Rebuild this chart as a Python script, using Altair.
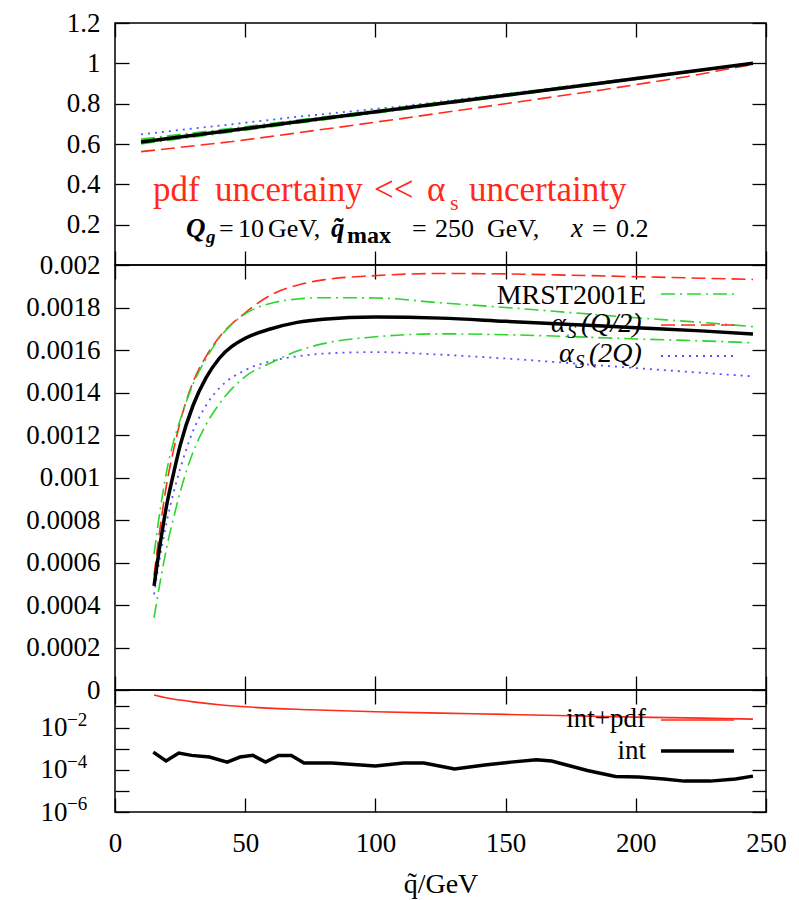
import altair as alt
import pandas as pd

FONT = "Liberation Serif"
RED = "#ff2a1a"
GREEN = "#2bd62b"
BLUE = "#5555ff"
BLACK = "#000000"

# ---------------- data ----------------
# top panel: ratio to value at q_max
q_ratio = [10, 45, 70, 110, 150, 187, 220, 245]
ratio_central = [0.610, 0.668, 0.710, 0.776, 0.842, 0.903, 0.958, 1.000]
ratio_mrst_up = [0.622, 0.676, 0.716, 0.780, 0.845, 0.905, 0.959, 1.000]
ratio_mrst_dn = [0.603, 0.662, 0.705, 0.772, 0.839, 0.901, 0.957, 1.000]
ratio_half = [0.562, 0.612, 0.655, 0.726, 0.800, 0.868, 0.935, 0.995]
ratio_double = [0.648, 0.698, 0.735, 0.787, 0.848, 0.907, 0.960, 1.000]

# middle panel: cross sections
q_xs = [15, 17.5, 20, 22.5, 25, 30, 35, 40, 50, 60, 70, 80, 100, 125, 150, 175, 200, 225, 245]
xs_central = [0.000490, 0.000700, 0.000880, 0.001020, 0.001150, 0.001340, 0.001470, 0.001560, 0.001655,
              0.001700, 0.001730, 0.001745, 0.001755, 0.001750, 0.001735, 0.001720, 0.001705, 0.001690, 0.001675]
xs_half = [0.000540, 0.000780, 0.000980, 0.001130, 0.001260, 0.001450, 0.001570, 0.001660, 0.001775,
           0.001860, 0.001905, 0.001930, 0.001950, 0.001960, 0.001958, 0.001952, 0.001945, 0.001938, 0.001932]
xs_mrst_up = [0.000640, 0.000860, 0.001040, 0.001170, 0.001270, 0.001440, 0.001560, 0.001655, 0.001770,
              0.001820, 0.001840, 0.001846, 0.001845, 0.001822, 0.001800, 0.001776, 0.001752, 0.001730, 0.001710]
xs_mrst_dn = [0.000340, 0.000520, 0.000680, 0.000810, 0.000930, 0.001120, 0.001250, 0.001345, 0.001475,
              0.001540, 0.001595, 0.001630, 0.001662, 0.001676, 0.001672, 0.001663, 0.001652, 0.001643, 0.001634]
xs_double = [0.000450, 0.000640, 0.000800, 0.000930, 0.001040, 0.001220, 0.001340, 0.001420, 0.001505,
             0.001548, 0.001570, 0.001583, 0.001590, 0.001578, 0.001560, 0.001538, 0.001515, 0.001493, 0.001476]

# bottom panel: relative errors
q_pdf = [15, 20, 25, 30, 40, 50, 75, 100, 125, 150, 175, 200, 225, 245]
err_int_pdf = [0.35, 0.25, 0.20, 0.165, 0.12, 0.096, 0.070, 0.056, 0.048, 0.042, 0.036, 0.031, 0.028, 0.025]
q_int = [14.7, 19.6, 24.5, 29.4, 36.3, 43.1, 48.0, 53.0, 57.8, 62.8, 67.7, 72.6, 83.3, 100.0, 110.8,
         118.6, 130.4, 142.0, 152.0, 161.8, 167.7, 181.4, 192.2, 201.0, 210.8, 218.6, 228.5, 238.3, 245.0]
err_int = [6.9e-4, 2.6e-4, 6.2e-4, 4.8e-4, 4.0e-4, 2.3e-4, 4.0e-4, 4.8e-4, 2.3e-4, 4.8e-4, 4.8e-4, 2.1e-4,
           2.1e-4, 1.5e-4, 2.1e-4, 2.1e-4, 1.1e-4, 1.7e-4, 2.3e-4, 3.0e-4, 2.6e-4, 9.3e-5, 4.8e-5, 4.5e-5,
           3.7e-5, 2.9e-5, 2.9e-5, 3.7e-5, 5.0e-5]

x_ticks = [0, 50, 100, 150, 200, 250]
top_ticks = [0.2, 0.4, 0.6, 0.8, 1.0, 1.2]
mid_ticks = [0, 0.0002, 0.0004, 0.0006, 0.0008, 0.001, 0.0012, 0.0014, 0.0016, 0.0018, 0.002]
bot_ticks = [1e-6, 1e-5, 1e-4, 1e-3, 1e-2, 1e-1]
bot_exp_vals = [1e-6, 1e-4, 1e-2]
bot_exp_text = ["\u22126", "\u22124", "\u22122"]

top_text_words = ["pdf", "uncertainy", "<<", "\u03b1", "s", "uncertainty"]
param_tokens = ["Q", "g", "=", "10", "GeV,", "q\u0303", "max", "=", "250", "GeV,", "x", "=", "0.2"]
legend_labels = ["MRST2001E", "(Q/2)", "(2Q)", "int+pdf", "int"]

# ---------------- layout ----------------
W = 651
H_TOP, H_MID, H_BOT = 242, 425, 122
XS = alt.Scale(domain=[0, 250], nice=False, zero=False)
YS_TOP = alt.Scale(domain=[0, 1.2], nice=False, zero=False)
YS_MID = alt.Scale(domain=[0, 0.002], nice=False, zero=False)
YS_BOT = alt.Scale(type="log", domain=[1e-6, 0.6], nice=False)
LABEL_SIZE = 27


def ax(orient, values, labels=False, fmt=None, pad=15, title=None, expr=None):
    kw = dict(orient=orient, values=values, labels=labels, ticks=True, tickSize=14, offset=-14,
              domain=False, grid=False, tickColor="black", tickWidth=1.3,
              labelFont=FONT, labelFontSize=LABEL_SIZE, labelColor="black", labelPadding=pad,
              labelFlush=False, labelOverlap=False, title=title)
    if fmt:
        kw["format"] = fmt
    if expr:
        kw["labelExpr"] = expr
    if title:
        kw.update(titleFont=FONT, titleFontSize=28, titleFontWeight="normal", titleColor="black",
                  titlePadding=14)
    return alt.Axis(**kw)


def line(df, yfield, yscale, color, width, dash=None, xaxis=None, yaxis=None, interp="monotone"):
    mk = dict(color=color, strokeWidth=width, interpolate=interp, clip=True)
    if dash:
        mk["strokeDash"] = dash
    return alt.Chart(df).mark_line(**mk).encode(
        x=alt.X("q:Q", scale=XS, axis=xaxis),
        y=alt.Y(f"{yfield}:Q", scale=yscale, axis=yaxis),
        order="q:Q",
    )


def txt(label, x, y, size=27, color="black", align="left", style="normal", weight="normal"):
    return alt.Chart(pd.DataFrame({"t": [label]})).mark_text(
        align=align, baseline="alphabetic", fontSize=size, font=FONT, fontStyle=style,
        fontWeight=weight, color=color
    ).encode(text="t:N", x=alt.value(x), y=alt.value(y))


def sample(x1, x2, y, color, width, dash=None):
    mk = dict(color=color, strokeWidth=width)
    if dash:
        mk["strokeDash"] = dash
    return alt.Chart(pd.DataFrame({"t": [0]})).mark_rule(**mk).encode(
        x=alt.value(x1), x2=alt.value(x2), y=alt.value(y))


DASH_RED = [14, 6]
DASH_GREEN = [14, 5, 2, 5]
DASH_BLUE = [2, 5]

# ---- top panel ----
df_top = pd.DataFrame({"q": q_ratio, "central": ratio_central, "up": ratio_mrst_up,
                       "dn": ratio_mrst_dn, "half": ratio_half, "double": ratio_double})
P = param_tokens
top = alt.layer(
    line(df_top, "half", YS_TOP, RED, 1.6, DASH_RED, interp="linear",
         xaxis=ax("bottom", x_ticks), yaxis=ax("left", top_ticks, labels=True, fmt=".1~f")),
    line(df_top, "double", YS_TOP, BLUE, 1.8, DASH_BLUE, interp="linear",
         xaxis=ax("top", x_ticks), yaxis=ax("right", top_ticks)),
    line(df_top, "up", YS_TOP, GREEN, 2.5, DASH_GREEN, interp="linear"),
    line(df_top, "dn", YS_TOP, GREEN, 2.5, DASH_GREEN, interp="linear"),
    line(df_top, "central", YS_TOP, BLACK, 3.5, interp="linear"),
    txt(top_text_words[0], 38, 178, 35, RED),
    txt(top_text_words[1], 100, 178, 35, RED),
    txt(top_text_words[2], 259, 178, 35, RED),
    txt(top_text_words[3], 312, 178, 35, RED),
    txt(top_text_words[4], 335, 187, 22, RED),
    txt(top_text_words[5], 354, 178, 35, RED),
    txt(P[0], 71, 214, 27, style="italic", weight="bold"),
    txt(P[1], 91, 220, 19, style="italic", weight="bold"),
    txt(P[2], 104, 214, 26),
    txt(P[3], 123, 214, 26),
    txt(P[4], 153, 214, 26),
    txt(P[5], 216, 214, 27, style="italic", weight="bold"),
    txt(P[6], 232, 220, 24, weight="bold"),
    txt(P[7], 297, 214, 26),
    txt(P[8], 320, 214, 26),
    txt(P[9], 372, 214, 26),
    txt(P[10], 456, 214, 27, style="italic"),
    txt(P[11], 477, 214, 26),
    txt(P[12], 501, 214, 26),
).resolve_axis(x="independent", y="independent").properties(width=W, height=H_TOP)

# ---- middle panel ----
df_mid = pd.DataFrame({"q": q_xs, "central": xs_central, "half": xs_half, "up": xs_mrst_up,
                       "dn": xs_mrst_dn, "double": xs_double})
mid = alt.layer(
    line(df_mid, "half", YS_MID, RED, 1.6, DASH_RED,
         xaxis=ax("bottom", x_ticks), yaxis=ax("left", mid_ticks, labels=True, fmt=".4~f")),
    line(df_mid, "double", YS_MID, BLUE, 1.8, DASH_BLUE,
         xaxis=ax("top", x_ticks), yaxis=ax("right", mid_ticks)),
    line(df_mid, "up", YS_MID, GREEN, 1.6, DASH_GREEN),
    line(df_mid, "dn", YS_MID, GREEN, 1.6, DASH_GREEN),
    line(df_mid, "central", YS_MID, BLACK, 3.5),
    txt(legend_labels[0], 531, 39, 28, align="right"),
    sample(546, 619, 29, GREEN, 1.6, DASH_GREEN),
    txt("\u03b1", 436, 67, 28, style="italic"),
    txt("S", 452, 73, 19, style="italic"),
    txt(legend_labels[1], 466, 67, 28, style="italic"),
    sample(546, 619, 60, RED, 1.6, DASH_RED),
    txt("\u03b1", 444, 97, 28, style="italic"),
    txt("S", 460, 103, 19, style="italic"),
    txt(legend_labels[2], 474, 97, 28, style="italic"),
    sample(546, 619, 91, BLUE, 1.8, DASH_BLUE),
).resolve_axis(x="independent", y="independent").properties(width=W, height=H_MID)

# ---- bottom panel ----
df_pdf = pd.DataFrame({"q": q_pdf, "err": err_int_pdf})
df_int = pd.DataFrame({"q": q_int, "err": err_int})
df_exp = pd.DataFrame({"v": bot_exp_vals, "lab": bot_exp_text})
bot_expr = "indexof([-6,-4,-2], round(log(datum.value)/LN10)) >= 0 ? '10' : ''"
bot = alt.layer(
    line(df_pdf, "err", YS_BOT, RED, 1.6,
         xaxis=ax("bottom", x_ticks, labels=True, pad=18, title="q\u0303/GeV"),
         yaxis=ax("left", bot_ticks, labels=True, pad=48, expr=bot_expr)),
    line(df_int, "err", YS_BOT, BLACK, 3.5, interp="linear",
         xaxis=ax("top", x_ticks), yaxis=ax("right", bot_ticks)),
    alt.Chart(df_exp).mark_text(align="left", baseline="middle", dy=-8, fontSize=19, font=FONT,
                                color="black").encode(
        x=alt.value(-48), y=alt.Y("v:Q", scale=YS_BOT, axis=None), text="lab:N"),
    txt(legend_labels[3], 531, 37, 27, align="right"),
    sample(546, 619, 30, RED, 1.6),
    txt(legend_labels[4], 531, 69, 27, align="right"),
    sample(546, 619, 61, BLACK, 3.5),
).resolve_axis(x="independent", y="independent").properties(width=W, height=H_BOT)

chart = alt.vconcat(top, mid, bot, spacing=0, bounds="flush").properties(
    padding={"left": 25, "top": 8, "right": 10, "bottom": 5},
    background="white",
).configure(
    view=alt.ViewConfig(stroke="black", strokeWidth=1.5),
    axis=alt.AxisConfig(labelFont=FONT, titleFont=FONT, labelFontSize=LABEL_SIZE, labelColor="black"),
    style={"guide-label": {"font": FONT, "fontSize": LABEL_SIZE},
           "guide-title": {"font": FONT, "fontSize": 28}},
    text=alt.MarkConfig(font=FONT),
)

chart.save("out.html", embed_options={"renderer": "svg", "actions": False})
